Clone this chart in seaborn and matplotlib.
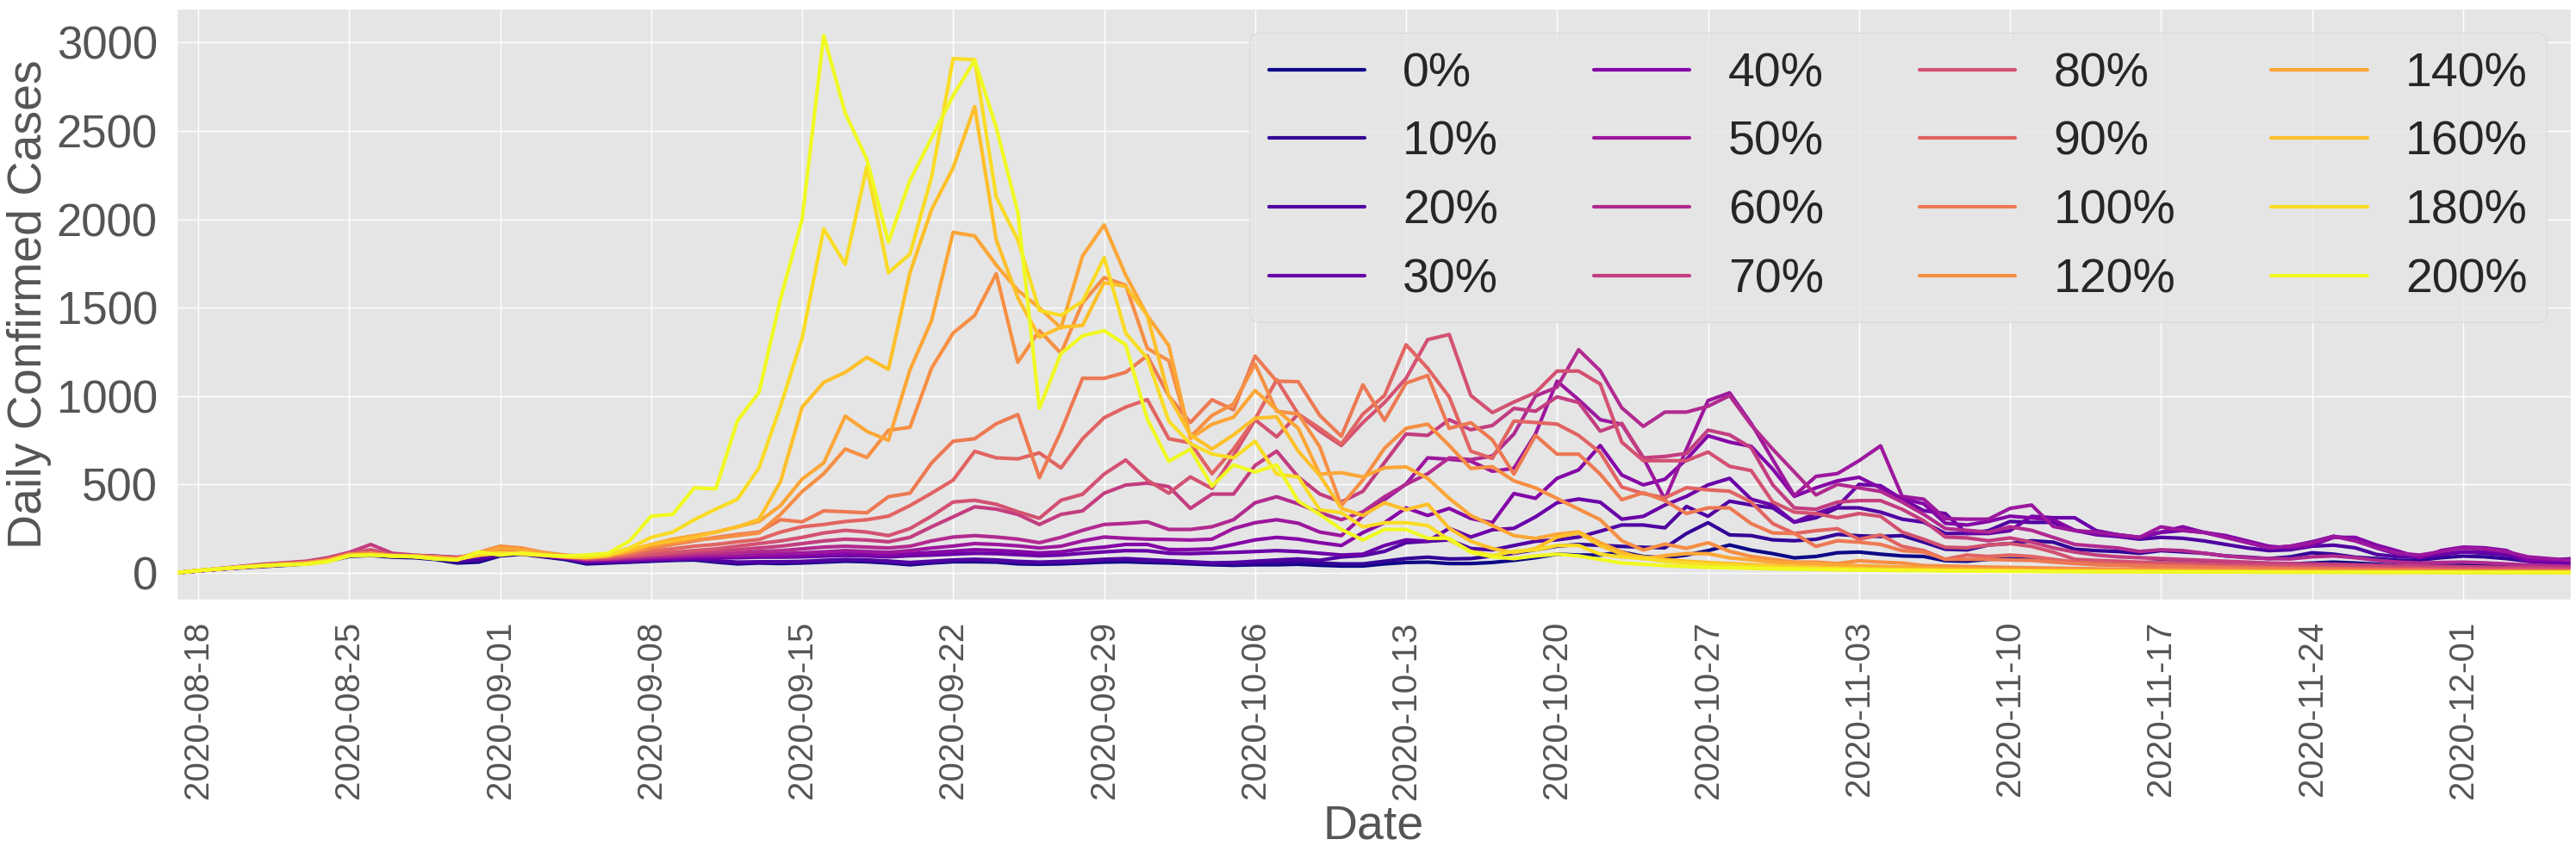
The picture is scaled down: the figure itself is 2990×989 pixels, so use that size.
import numpy as np
import pandas as pd
import matplotlib
matplotlib.use("Agg")
import matplotlib.pyplot as plt
import seaborn as sns

# daily confirmed cases per scenario, 2020-08-17 .. 2020-12-06 (one row = one week)
dates = pd.date_range("2020-08-17", "2020-12-06", freq="D")
labels = ["0%", "10%", "20%", "30%", "40%", "50%", "60%", "70%", "80%", "90%",
          "100%", "120%", "140%", "160%", "180%", "200%"]
y_ticks = [0, 500, 1000, 1500, 2000, 2500, 3000]

cases_0 = [0, 10, 20, 28, 35, 42, 50,
           65, 92, 98, 88, 85, 75, 55,
           60, 95, 105, 90, 75, 50, 55,
           60, 65, 70, 72, 60, 50, 55,
           52, 55, 60, 65, 62, 55, 45,
           55, 62, 62, 60, 50, 48, 50,
           55, 60, 62, 58, 55, 50, 45,
           42, 45, 45, 48, 42, 38, 38,
           50, 58, 60, 52, 52, 58, 70,
           85, 105, 100, 100, 117, 92, 84,
           100, 125, 157, 128, 108, 84, 92,
           113, 117, 105, 95, 92, 68, 65,
           76, 79, 76, 68, 60, 62, 58,
           55, 62, 60, 58, 52, 50, 48,
           50, 55, 60, 55, 48, 42, 40,
           42, 45, 44, 42, 38, 36, 38]

cases_10 = [0, 11, 21, 30, 38, 46, 54,
            70, 98, 104, 92, 92, 82, 60,
            68, 98, 110, 95, 80, 55, 58,
            62, 68, 72, 75, 65, 55, 58,
            58, 60, 65, 70, 68, 60, 52,
            60, 68, 70, 66, 58, 55, 58,
            62, 70, 72, 66, 62, 56, 50,
            48, 52, 56, 60, 55, 50, 50,
            65, 80, 88, 78, 80, 95, 110,
            130, 150, 160, 155, 149, 144, 141,
            222, 283, 214, 210, 186, 181, 189,
            217, 209, 205, 210, 173, 133, 129,
            157, 165, 181, 173, 133, 125, 120,
            110, 125, 118, 110, 95, 88, 80,
            90, 113, 105, 88, 80, 70, 72,
            85, 94, 90, 80, 65, 55, 50]

cases_20 = [0, 11, 21, 31, 39, 47, 54,
            70, 100, 106, 94, 95, 88, 68,
            75, 100, 112, 98, 82, 62, 62,
            66, 70, 75, 78, 68, 60, 62,
            62, 64, 70, 75, 72, 66, 58,
            65, 72, 76, 72, 64, 60, 64,
            68, 76, 80, 74, 68, 62, 56,
            58, 65, 72, 78, 70, 89, 97,
            121, 170, 178, 186, 137, 129, 154,
            178, 186, 202, 235, 270, 270, 254,
            375, 319, 405, 383, 367, 286, 311,
            367, 367, 343, 303, 286, 222, 222,
            238, 290, 285, 285, 240, 215, 205,
            190, 200, 195, 180, 160, 140, 125,
            130, 150, 156, 141, 103, 90, 95,
            103, 118, 110, 100, 75, 66, 56]

cases_30 = [0, 11, 21, 30, 38, 46, 53,
            68, 98, 104, 94, 96, 94, 86,
            96, 108, 106, 94, 82, 64, 66,
            70, 75, 78, 82, 84, 85, 88,
            88, 90, 94, 98, 95, 90, 96,
            100, 105, 110, 108, 102, 96, 100,
            110, 118, 125, 124, 110, 108, 112,
            115, 120, 125, 120, 110, 100, 105,
            154, 186, 178, 251, 202, 243, 251,
            316, 396, 417, 399, 303, 319, 383,
            432, 497, 534, 416, 383, 286, 335,
            375, 500, 492, 416, 351, 335, 222,
            222, 238, 319, 311, 311, 238, 215,
            200, 228, 239, 228, 200, 175, 140,
            150, 175, 206, 190, 140, 103, 88,
            103, 118, 120, 103, 66, 60, 56]

cases_40 = [0, 11, 21, 30, 38, 46, 53,
            68, 98, 104, 94, 96, 92, 82,
            95, 110, 108, 96, 84, 68, 70,
            75, 80, 84, 88, 90, 92, 95,
            96, 100, 104, 108, 104, 100, 108,
            115, 122, 130, 126, 120, 112, 118,
            135, 145, 160, 160, 131, 131, 135,
            160, 186, 200, 190, 170, 154, 227,
            283, 367, 324, 364, 307, 283, 448,
            421, 534, 582, 720, 553, 497, 529,
            642, 775, 739, 715, 586, 432, 480,
            520, 540, 480, 420, 390, 280, 270,
            290, 320, 310, 300, 240, 220, 210,
            200, 230, 260, 228, 210, 180, 150,
            140, 155, 200, 200, 156, 122, 85,
            126, 145, 141, 126, 75, 71, 79]

cases_50 = [0, 11, 21, 30, 39, 47, 54,
            70, 100, 106, 95, 95, 88, 78,
            96, 112, 110, 98, 86, 72, 74,
            80, 86, 90, 95, 98, 100, 105,
            108, 112, 118, 125, 120, 115, 125,
            140, 151, 165, 160, 152, 140, 150,
            180, 202, 195, 190, 188, 185, 190,
            250, 283, 300, 280, 230, 210, 320,
            413, 502, 650, 642, 631, 574, 591,
            785, 1084, 979, 866, 840, 650, 415,
            700, 974, 1018, 845, 640, 436, 545,
            561, 634, 718, 432, 416, 306, 303,
            303, 364, 383, 262, 238, 230, 215,
            200, 260, 240, 228, 200, 170, 140,
            150, 170, 206, 180, 140, 110, 100,
            120, 140, 135, 120, 90, 80, 70]

cases_60 = [0, 11, 21, 31, 40, 48, 55,
            72, 102, 108, 96, 95, 86, 78,
            98, 115, 112, 100, 88, 76, 78,
            85, 92, 98, 105, 108, 112, 120,
            125, 135, 145, 150, 145, 140, 150,
            180, 202, 210, 202, 190, 170, 200,
            240, 273, 279, 288, 245, 245, 260,
            300, 396, 430, 390, 340, 300, 345,
            430, 500, 560, 650, 640, 660, 785,
            1000, 1050, 1262, 1143, 933, 828, 909,
            909, 942, 1002, 836, 699, 570, 440,
            500, 480, 460, 400, 330, 250, 240,
            230, 260, 240, 200, 160, 150, 140,
            120, 130, 125, 110, 95, 85, 80,
            78, 90, 95, 85, 70, 60, 55,
            58, 60, 56, 50, 44, 40, 36]

cases_70 = [0, 12, 24, 36, 48, 56, 65,
            85, 115, 160, 110, 100, 92, 88,
            100, 120, 115, 100, 88, 78, 80,
            90, 100, 105, 115, 120, 130, 140,
            150, 165, 180, 190, 185, 175, 200,
            260, 316, 373, 360, 330, 273, 330,
            350, 450, 496, 507, 487, 364, 445,
            445, 607, 688, 542, 445, 400, 461,
            623, 785, 777, 866, 809, 833, 930,
            914, 995, 963, 801, 845, 650, 658,
            675, 807, 780, 707, 497, 367, 359,
            400, 408, 408, 359, 294, 202, 197,
            181, 197, 173, 141, 117, 100, 90,
            85, 80, 75, 70, 65, 60, 55,
            52, 50, 48, 45, 42, 40, 38,
            36, 34, 32, 30, 29, 28, 27]

cases_80 = [0, 12, 22, 34, 45, 55, 62,
            80, 110, 130, 100, 95, 90, 85,
            100, 125, 120, 105, 90, 80, 85,
            95, 105, 115, 125, 135, 150, 165,
            180, 200, 225, 240, 230, 210, 250,
            320, 400, 410, 387, 345, 308, 410,
            444, 558, 638, 524, 450, 542, 477,
            663, 866, 769, 898, 801, 720, 850,
            963, 1100, 1319, 1348, 1003, 906, 966,
            1019, 1141, 1141, 1068, 739, 634, 634,
            634, 683, 602, 578, 400, 343, 335,
            311, 335, 319, 230, 189, 144, 141,
            157, 165, 149, 117, 76, 70, 65,
            60, 58, 55, 50, 46, 42, 40,
            38, 36, 34, 32, 30, 28, 26,
            25, 24, 22, 21, 20, 19, 18]

cases_90 = [0, 12, 22, 32, 42, 50, 56,
            72, 104, 110, 96, 94, 86, 80,
            100, 120, 118, 105, 92, 85, 90,
            100, 120, 135, 150, 160, 175, 188,
            230, 260, 273, 290, 300, 320, 380,
            450, 524, 687, 650, 644, 678, 593,
            758, 877, 937, 980, 758, 735, 560,
            700, 869, 1092, 898, 817, 728, 898,
            1003, 1290, 1157, 995, 688, 647, 858,
            850, 841, 777, 680, 485, 448, 424,
            481, 469, 461, 400, 278, 222, 238,
            249, 189, 214, 149, 125, 76, 100,
            92, 100, 92, 76, 60, 55, 50,
            45, 42, 40, 36, 32, 30, 28,
            26, 25, 24, 22, 20, 18, 17,
            16, 15, 14, 13, 12, 11, 10]

cases_100 = [0, 12, 22, 32, 42, 50, 56,
             72, 105, 112, 98, 95, 88, 80,
             108, 135, 130, 110, 95, 88, 95,
             110, 135, 160, 180, 200, 217, 230,
             300, 288, 350, 345, 339, 430, 450,
             621, 744, 758, 843, 895, 538, 800,
             1100, 1100, 1134, 1228, 1000, 850, 979,
             922, 1226, 1084, 1081, 890, 772, 1063,
             862, 1073, 1116, 817, 849, 752, 558,
             777, 671, 671, 558, 413, 453, 408,
             335, 367, 367, 278, 225, 222, 149,
             181, 173, 160, 125, 117, 76, 76,
             76, 72, 70, 60, 52, 45, 42,
             38, 36, 34, 30, 28, 26, 24,
             22, 21, 20, 18, 17, 16, 15,
             14, 13, 12, 11, 10, 10, 9]

cases_120 = [0, 12, 22, 32, 42, 50, 56,
             72, 104, 110, 98, 96, 90, 82,
             115, 150, 140, 115, 100, 92, 100,
             118, 145, 165, 185, 195, 210, 225,
             330, 459, 560, 700, 652, 806, 823,
             1157, 1356, 1456, 1692, 1191, 1370, 1242,
             1527, 1670, 1627, 1270, 1200, 769, 890,
             955, 1181, 914, 898, 712, 380, 526,
             704, 817, 841, 720, 590, 600, 520,
             480, 420, 360, 300, 181, 128, 162,
             138, 170, 121, 92, 76, 60, 60,
             52, 68, 60, 55, 40, 38, 35,
             32, 30, 28, 26, 24, 22, 20,
             19, 18, 17, 16, 15, 14, 13,
             12, 12, 11, 10, 10, 9, 9,
             8, 8, 7, 7, 7, 6, 6]

cases_140 = [0, 12, 22, 31, 40, 47, 52,
             68, 100, 104, 94, 92, 84, 76,
             110, 140, 130, 110, 95, 90, 100,
             120, 160, 190, 210, 230, 260, 290,
             380, 530, 621, 886, 800, 749, 1148,
             1427, 1926, 1906, 1741, 1598, 1499, 1385,
             1792, 1968, 1684, 1456, 1285, 760, 840,
             880, 1031, 922, 817, 558, 566, 542,
             594, 599, 534, 421, 324, 267, 210,
             194, 218, 231, 170, 117, 79, 97,
             108, 108, 84, 73, 60, 55, 50,
             45, 40, 36, 32, 28, 25, 22,
             20, 18, 16, 15, 14, 13, 12,
             11, 10, 10, 9, 8, 8, 7,
             7, 6, 6, 6, 5, 5, 5,
             5, 4, 4, 4, 4, 3, 3]

cases_160 = [0, 12, 22, 31, 40, 46, 50,
             66, 98, 102, 94, 92, 82, 74,
             105, 115, 108, 100, 90, 85, 95,
             130, 160, 180, 200, 230, 259, 302,
             516, 937, 1077, 1134, 1219, 1151, 1698,
             2054, 2291, 2638, 1883, 1556, 1333, 1390,
             1399, 1641, 1621, 1456, 1000, 780, 700,
             780, 874, 882, 688, 550, 364, 324,
             396, 356, 388, 251, 178, 137, 113,
             137, 202, 226, 154, 105, 89, 75,
             65, 58, 52, 46, 40, 35, 30,
             27, 24, 21, 19, 17, 15, 14,
             13, 12, 11, 10, 9, 8, 8,
             7, 7, 6, 6, 5, 5, 5,
             4, 4, 4, 4, 3, 3, 3,
             3, 3, 3, 2, 2, 2, 2]

cases_180 = [0, 12, 22, 30, 38, 44, 50,
             65, 98, 100, 95, 90, 80, 75,
             100, 110, 105, 98, 92, 90, 100,
             140, 200, 230, 300, 360, 416, 593,
             943, 1328, 1946, 1746, 2296, 1698, 1803,
             2239, 2909, 2903, 2125, 1883, 1484, 1456,
             1536, 1783, 1356, 1214, 858, 729, 672,
             650, 744, 558, 542, 356, 340, 259,
             283, 283, 267, 186, 121, 97, 121,
             129, 154, 154, 105, 89, 81, 65,
             55, 48, 42, 36, 32, 28, 25,
             22, 20, 18, 16, 14, 13, 12,
             11, 10, 9, 8, 8, 7, 7,
             6, 6, 5, 5, 5, 4, 4,
             4, 4, 3, 3, 3, 3, 3,
             2, 2, 2, 2, 2, 2, 2]

cases_200 = [0, 12, 22, 32, 40, 45, 48,
             62, 95, 100, 95, 92, 78, 72,
             118, 100, 112, 100, 95, 100, 110,
             180, 320, 330, 480, 475, 860, 1020,
             1550, 2000, 3040, 2600, 2340, 1870, 2220,
             2460, 2700, 2900, 2520, 2040, 930, 1240,
             1340, 1370, 1290, 870, 630, 700, 490,
             610, 570, 610, 405, 330, 245, 185,
             245, 245, 195, 195, 115, 90, 80,
             95, 105, 95, 75, 55, 48, 40,
             35, 30, 28, 25, 22, 20, 18,
             16, 15, 14, 12, 12, 10, 10,
             9, 8, 8, 7, 7, 6, 6,
             5, 5, 5, 4, 4, 4, 3,
             3, 3, 3, 3, 2, 2, 2,
             2, 2, 2, 2, 1, 1, 1]

series = [cases_0, cases_10, cases_20, cases_30, cases_40, cases_50, cases_60,
          cases_70, cases_80, cases_90, cases_100, cases_120, cases_140,
          cases_160, cases_180, cases_200]

df = pd.DataFrame({
    "Date": np.tile(dates, len(labels)),
    "Cases": np.concatenate(series),
    "Scenario": np.repeat(labels, len(dates)),
})

sns.set_theme()
plt.style.use("ggplot")
plt.rcParams["font.family"] = ["Liberation Sans", "DejaVu Sans"]

colors = [plt.cm.plasma(v) for v in np.linspace(0, 1, len(labels))]

fig = plt.figure(figsize=(29.9, 9.89), dpi=100)
ax = fig.add_axes([205 / 2990, 1 - 696 / 989, (2984 - 205) / 2990, (696 - 10) / 989])

sns.lineplot(data=df, x="Date", y="Cases", hue="Scenario", hue_order=labels,
             palette=colors, linewidth=3, legend=False, ax=ax)

ax.set_xlim(dates[0], dates[-1])
ticks = dates[1::7]
ax.set_xticks(ticks)
ax.set_xticklabels([d.strftime("%Y-%m-%d") for d in ticks], rotation=90, fontsize=29)
ax.set_yticks(y_ticks)
ax.tick_params(axis="x", pad=12)
ax.tick_params(axis="y", labelsize=38, pad=10)
ax.set_xlabel("Date", fontsize=40)
ax.set_ylabel("Daily Confirmed Cases", fontsize=40)

ax.legend(ax.lines[:len(labels)], labels, ncol=4, loc="upper right", fontsize=40)

fig.savefig("out.png", dpi=100)
